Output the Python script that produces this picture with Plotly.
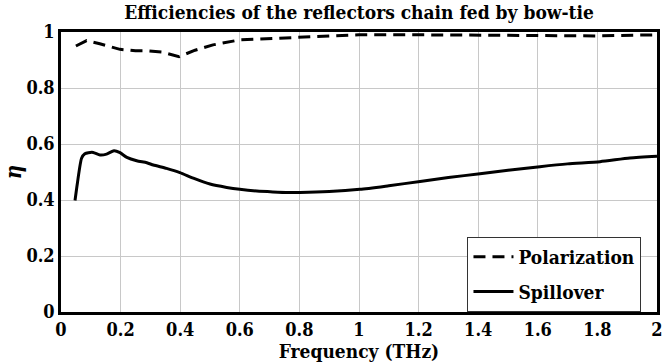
import plotly.graph_objects as go

pol_x = [0.05, 0.086, 0.13, 0.198, 0.25, 0.288, 0.34, 0.396, 0.45, 0.51, 0.6, 0.7, 0.8, 0.9, 1.0, 1.2, 1.4, 1.6, 1.8, 2.0]
pol_y = [0.95, 0.969, 0.958, 0.938, 0.933, 0.933, 0.928, 0.912, 0.935, 0.954, 0.972, 0.977, 0.981, 0.986, 0.99, 0.99, 0.989, 0.987, 0.986, 0.99]

sp_x = [0.047, 0.055, 0.069, 0.08, 0.092, 0.108, 0.131, 0.153, 0.178, 0.198, 0.221, 0.254, 0.288, 0.31, 0.354,
        0.399, 0.444, 0.5, 0.556, 0.6, 0.657, 0.711, 0.765, 0.802, 0.9, 1.003, 1.1, 1.205, 1.3, 1.406, 1.5, 1.607,
        1.7, 1.809, 1.909, 2.0]
sp_y = [0.398, 0.46, 0.549, 0.565, 0.569, 0.57, 0.561, 0.564, 0.576, 0.569, 0.552, 0.54, 0.533, 0.525, 0.513,
        0.498, 0.478, 0.457, 0.445, 0.438, 0.432, 0.429, 0.427, 0.427, 0.43, 0.438, 0.451, 0.466, 0.48, 0.494, 0.506, 0.519,
        0.529, 0.537, 0.55, 0.556]

x_ticks = [0, 0.2, 0.4, 0.6, 0.8, 1, 1.2, 1.4, 1.6, 1.8, 2]
x_tick_text = ["0", "0.2", "0.4", "0.6", "0.8", "1", "1.2", "1.4", "1.6", "1.8", "2"]
y_ticks = [0, 0.2, 0.4, 0.6, 0.8, 1]
y_tick_text = ["0", "0.2", "0.4", "0.6", "0.8", "1"]

font = "DejaVu Serif Condensed, DejaVu Serif, serif"

fig = go.Figure()
fig.add_trace(go.Scatter(x=pol_x, y=pol_y, mode="lines", name="Polarization", legendgroup="a",
                         line=dict(color="black", width=3, dash="12px,7px")))
fig.add_trace(go.Scatter(x=sp_x, y=sp_y, mode="lines", name="Spillover", legendgroup="b",
                         line=dict(color="black", width=3, shape="spline", smoothing=0.6)))

fig.update_layout(
    width=665, height=364,
    margin=dict(l=61, r=8, t=32, b=52),
    paper_bgcolor="white", plot_bgcolor="white",
    font=dict(family=font, color="black", size=18, weight="bold"),
    title=dict(text="Efficiencies of the reflectors chain fed by bow-tie",
               x=0.54, xanchor="center", y=0.965, yanchor="middle",
               font=dict(family=font, size=19, color="black", weight="bold")),
    showlegend=True,
    legend=dict(x=0.682, y=0.268, xanchor="left", yanchor="top",
                bgcolor="white", bordercolor="#333", borderwidth=1,
                font=dict(family=font, size=19, color="black", weight="bold"),
                tracegroupgap=7, itemwidth=40),
    xaxis=dict(range=[0, 2], tickvals=x_ticks, ticktext=x_tick_text,
               tickfont=dict(family=font, size=18, weight="bold"),
               showgrid=True, gridcolor="#c8c8c8", gridwidth=1,
               showline=True, linecolor="black", linewidth=2.5, mirror=True,
               ticks="", zeroline=False, automargin=False,
               title=dict(text="Frequency (THz)", standoff=2,
                          font=dict(family=font, size=19, weight="bold"))),
    yaxis=dict(range=[0, 1], tickvals=y_ticks, ticktext=y_tick_text,
               tickfont=dict(family=font, size=18, weight="bold"),
               showgrid=True, gridcolor="#c8c8c8", gridwidth=1,
               showline=True, linecolor="black", linewidth=2.5, mirror=True,
               ticks="", zeroline=False, automargin=False,
               title=dict(text="<i>η</i>", standoff=10,
                          font=dict(family=font, size=22, weight="bold"))),
)

fig.write_html("out.html")
